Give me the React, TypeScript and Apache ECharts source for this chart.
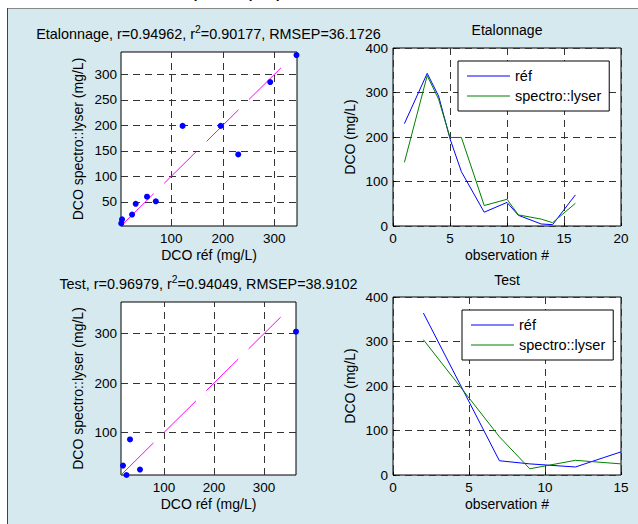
import React, { useEffect, useRef } from 'react';
import * as echarts from 'echarts';

// Calibration (Etalonnage) set
const calObs = [1, 3, 4, 5, 6, 8, 10, 11, 13, 14, 16];
const calRef = [230, 343, 292, 196, 122, 31, 53, 24, 4.5, 3, 70];
const calSpec = [143, 338, 285, 199, 199, 46, 60, 25, 15.5, 7.5, 51];
// Test set
const testObs = [2, 7, 9, 12, 15];
const testRef = [364, 32, 25, 18, 52];
const testSpec = [304, 86, 14, 33, 25];
// y = x reference segments
const calFit = [4, 320];
const testFit = [15, 340];
// tight scatter ranges
const calRange = [2.5, 344];
const testRange = [14, 364];
// tick values
const calTicksX = [100, 200, 300];
const calTicksY = [50, 100, 150, 200, 250, 300];
const testTicks = [100, 200, 300];
const legendNames = ['réf', 'spectro::lyser'];
const titles = {
  calA: 'Etalonnage, r=0.94962, r',
  calB: '=0.90177, RMSEP=36.1726',
  testA: 'Test, r=0.96979, r',
  testB: '=0.94049, RMSEP=38.9102',
  sup: '2',
  calLine: 'Etalonnage',
  testLine: 'Test',
  top: '(exemple)',
};

const FONT = '"Liberation Sans", Arial, Helvetica, sans-serif';
const BLUE = '#0000ff';
const GREEN = '#008000';
const GRIDLINE = { color: '#333', width: 1, type: [7, 5] as number[] };

function measure(text: string, size: number): number {
  const c = document.createElement('canvas').getContext('2d');
  if (!c) return text.length * size * 0.55;
  c.font = `${size}px "Liberation Sans"`;
  return c.measureText(text).width;
}

function txt(text: string, x: number, y: number, size: number, align = 'left') {
  return {
    type: 'text',
    x,
    y,
    z: 20,
    style: {
      text,
      fontSize: size,
      fontFamily: FONT,
      fontWeight: 'normal',
      fill: '#000',
      align,
      verticalAlign: 'middle',
    },
  };
}

function supTitle(cx: number, cy: number, a: string, s: string, b: string, size: number) {
  const ss = size * 0.72;
  const wa = measure(a, size);
  const ws = measure(s, ss);
  const wb = measure(b, size);
  const x0 = cx - (wa + ws + wb) / 2;
  return [txt(a, x0, cy, size), txt(s, x0 + wa, cy - 5, ss), txt(b, x0 + wa + ws, cy, size)];
}

const labelStyle = { color: '#000', fontSize: 13.5, fontFamily: FONT };
const nameStyle = { color: '#000', fontSize: 14, fontFamily: FONT };

function scatterAxis(grid: number, range: number[], ticks: number[], name: string, gap: number, margin: number) {
  return {
    type: 'value',
    gridIndex: grid,
    min: range[0],
    max: range[1],
    axisLine: { show: false },
    axisTick: { show: true, inside: true, length: 3, customValues: ticks, lineStyle: { color: '#000' } },
    axisLabel: { customValues: ticks, margin, ...labelStyle },
    splitLine: { show: false },
    name,
    nameLocation: 'middle',
    nameGap: gap,
    nameTextStyle: nameStyle,
  };
}

function lineAxis(grid: number, max: number, interval: number, name: string, gap: number) {
  return {
    type: 'value',
    gridIndex: grid,
    min: 0,
    max,
    interval,
    axisLine: { show: false },
    axisTick: { show: true, inside: true, length: 3, lineStyle: { color: '#000' } },
    axisLabel: { margin: 5, ...labelStyle },
    splitLine: { show: true, lineStyle: GRIDLINE },
    name,
    nameLocation: 'middle',
    nameGap: gap,
    nameTextStyle: nameStyle,
  };
}

function legend(left: number, top: number) {
  return {
    data: legendNames.map((n) => ({ name: n, icon: 'rect' })),
    left,
    top,
    orient: 'vertical',
    itemWidth: 43,
    itemHeight: 1,
    itemGap: 4,
    padding: [7, 8, 7, 9],
    backgroundColor: '#fff',
    borderColor: '#000',
    borderWidth: 1,
    borderRadius: 0,
    textStyle: { color: '#000', fontSize: 14.5, fontFamily: FONT, lineHeight: 16 },
    selectedMode: false,
  };
}

export default function App() {
  const ref = useRef<HTMLDivElement>(null);
  useEffect(() => {
    if (!ref.current) return;
    const chart = echarts.init(ref.current, undefined, { renderer: 'svg' });

    const gridMarks = (tx: number[], ty: number[]) => ({
      silent: true,
      z: 1,
      symbol: ['none', 'none'],
      label: { show: false },
      lineStyle: GRIDLINE,
      emphasis: { disabled: true },
      data: [...tx.map((v) => ({ xAxis: v })), ...ty.map((v) => ({ yAxis: v }))],
    });

    const option = {
      animation: false,
      backgroundColor: 'transparent',
      graphic: [
        {
          type: 'rect',
          z: -100,
          shape: { x: 7, y: 8, width: 631, height: 516 },
          style: { fill: '#d5e9ee' },
        },
        { type: 'line', z: -90, shape: { x1: 7, y1: 8.5, x2: 638, y2: 8.5 }, style: { stroke: '#888', lineWidth: 1 } },
        { type: 'line', z: -90, shape: { x1: 7.5, y1: 8, x2: 7.5, y2: 524 }, style: { stroke: '#444', lineWidth: 1 } },
        txt(titles.top, 190, -11, 21),
        ...supTitle(208.5, 34, titles.calA, titles.sup, titles.calB, 14.4),
        ...supTitle(208.5, 284, titles.testA, titles.sup, titles.testB, 14.4),
        txt(titles.calLine, 507, 30, 14, 'center'),
        txt(titles.testLine, 507, 280, 14, 'center'),
      ],
      grid: [
        { left: 121, top: 52, width: 176, height: 174 },
        { left: 393, top: 48, width: 228, height: 178 },
        { left: 121, top: 302, width: 175, height: 173 },
        { left: 393, top: 297, width: 228, height: 178 },
      ].map((g) => ({
        ...g,
        show: true,
        backgroundColor: '#fff',
        borderColor: '#000',
        borderWidth: 1,
        containLabel: false,
        outerBoundsMode: 'none',
      })),
      xAxis: [
        scatterAxis(0, calRange, calTicksX, 'DCO réf (mg/L)', 22, 5),
        lineAxis(1, 20, 5, 'observation #', 22),
        scatterAxis(2, testRange, testTicks, 'DCO réf (mg/L)', 22, 5),
        lineAxis(3, 15, 5, 'observation #', 22),
      ],
      yAxis: [
        scatterAxis(0, calRange, calTicksY, 'DCO spectro::lyser (mg/L)', 36, 4),
        lineAxis(1, 400, 100, 'DCO (mg/L)', 36),
        scatterAxis(2, testRange, testTicks, 'DCO spectro::lyser (mg/L)', 36, 4),
        lineAxis(3, 400, 100, 'DCO (mg/L)', 36),
      ],
      legend: [legend(458, 61), legend(462, 310)],
      series: [
        {
          type: 'line',
          name: 'fitCal',
          xAxisIndex: 0,
          yAxisIndex: 0,
          data: calFit.map((v) => [v, v]),
          showSymbol: false,
          symbol: 'none',
          z: 2,
          lineStyle: { color: '#ff00ff', width: 1, type: [45, 14.6] },
          markLine: gridMarks(calTicksX, calTicksY),
        },
        {
          type: 'scatter',
          name: 'ptsCal',
          xAxisIndex: 0,
          yAxisIndex: 0,
          data: calRef.map((v, i) => [v, calSpec[i]]),
          symbolSize: 6,
          itemStyle: { color: BLUE, opacity: 1 },
          z: 3,
        },
        {
          type: 'line',
          name: 'réf',
          xAxisIndex: 1,
          yAxisIndex: 1,
          data: calObs.map((o, i) => [o, calRef[i]]),
          symbol: 'none',
          color: BLUE,
          lineStyle: { color: BLUE, width: 1 },
        },
        {
          type: 'line',
          name: 'spectro::lyser',
          xAxisIndex: 1,
          yAxisIndex: 1,
          data: calObs.map((o, i) => [o, calSpec[i]]),
          symbol: 'none',
          color: GREEN,
          lineStyle: { color: GREEN, width: 1 },
        },
        {
          type: 'line',
          name: 'fitTest',
          xAxisIndex: 2,
          yAxisIndex: 2,
          data: testFit.map((v) => [v, v]),
          showSymbol: false,
          symbol: 'none',
          z: 2,
          lineStyle: { color: '#ff00ff', width: 1, type: [45, 14.6] },
          markLine: gridMarks(testTicks, testTicks),
        },
        {
          type: 'scatter',
          name: 'ptsTest',
          xAxisIndex: 2,
          yAxisIndex: 2,
          data: testRef.map((v, i) => [v, testSpec[i]]),
          symbolSize: 6,
          itemStyle: { color: BLUE, opacity: 1 },
          z: 3,
        },
        {
          type: 'line',
          name: 'réf',
          xAxisIndex: 3,
          yAxisIndex: 3,
          data: testObs.map((o, i) => [o, testRef[i]]),
          symbol: 'none',
          color: BLUE,
          lineStyle: { color: BLUE, width: 1 },
        },
        {
          type: 'line',
          name: 'spectro::lyser',
          xAxisIndex: 3,
          yAxisIndex: 3,
          data: testObs.map((o, i) => [o, testSpec[i]]),
          symbol: 'none',
          color: GREEN,
          lineStyle: { color: GREEN, width: 1 },
        },
      ],
    };
    chart.setOption(option as any);
    return () => chart.dispose();
  }, []);

  return (
    <div
      ref={ref}
      style={{ position: 'fixed', left: 0, top: 0, width: 638, height: 524, background: '#fff' }}
    />
  );
}
